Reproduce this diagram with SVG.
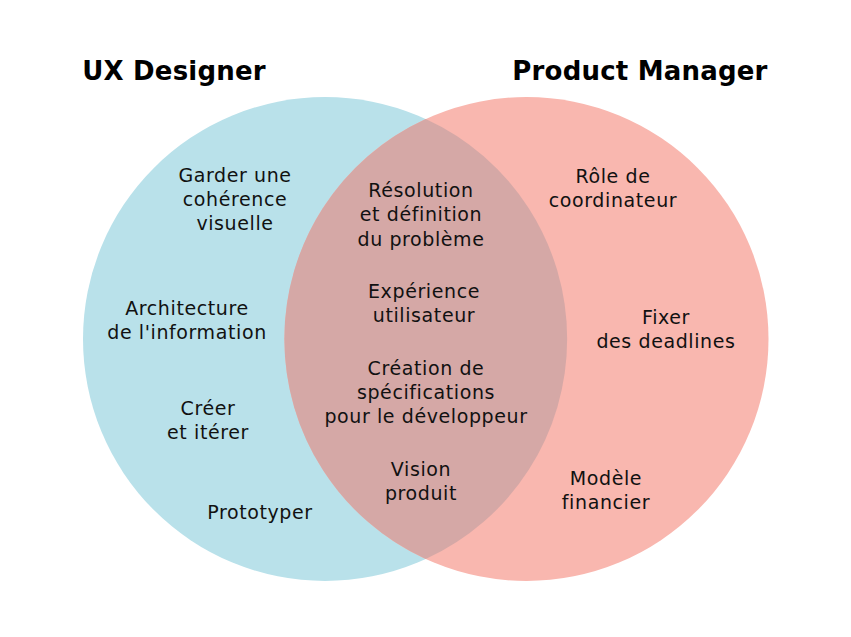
<svg xmlns="http://www.w3.org/2000/svg" width="851" height="637" viewBox="0 0 851 637">
<style>
.t{font-family:"DejaVu Sans","Liberation Sans",sans-serif;font-size:19px;fill:#111;text-anchor:middle;letter-spacing:0.6px}
.h{font-family:"DejaVu Sans","Liberation Sans",sans-serif;font-size:26px;font-weight:bold;fill:#000;text-anchor:middle;letter-spacing:0.2px}
</style>
<rect width="851" height="637" fill="#ffffff"/>
<g id="sets">
<circle id="ux" cx="325" cy="339" r="242" fill="#B9E1EA"/>
<circle id="pm" cx="526.5" cy="339" r="242" fill="#F9B7AF"/>
<path id="overlap" d="M425.75,118.9 A242,242 0 0,1 425.75,559.1 A242,242 0 0,1 425.75,118.9 Z" fill="#D5A8A6"/>
</g>
<g id="titles">
<text class="h" x="174" y="80">UX Designer</text>
<text class="h" x="640" y="80">Product Manager</text>
</g>
<g id="ux-items">
<text class="t" x="235" y="182">Garder une</text>
<text class="t" x="235" y="206">cohérence</text>
<text class="t" x="235" y="230">visuelle</text>
<text class="t" x="187" y="315">Architecture</text>
<text class="t" x="187" y="339">de l'information</text>
<text class="t" x="208" y="415">Créer</text>
<text class="t" x="208" y="439">et itérer</text>
<text class="t" x="260" y="519">Prototyper</text>
</g>
<g id="shared-items">
<text class="t" x="421" y="197">Résolution</text>
<text class="t" x="421" y="221">et définition</text>
<text class="t" x="421" y="246">du problème</text>
<text class="t" x="424" y="298">Expérience</text>
<text class="t" x="424" y="322">utilisateur</text>
<text class="t" x="426" y="375">Création de</text>
<text class="t" x="426" y="399">spécifications</text>
<text class="t" x="426" y="423">pour le développeur</text>
<text class="t" x="421" y="476">Vision</text>
<text class="t" x="421" y="500">produit</text>
</g>
<g id="pm-items">
<text class="t" x="613" y="183">Rôle de</text>
<text class="t" x="613" y="207">coordinateur</text>
<text class="t" x="666" y="324">Fixer</text>
<text class="t" x="666" y="348">des deadlines</text>
<text class="t" x="606" y="485">Modèle</text>
<text class="t" x="606" y="509">financier</text>
</g>
<g id="connectors"></g>
</svg>
